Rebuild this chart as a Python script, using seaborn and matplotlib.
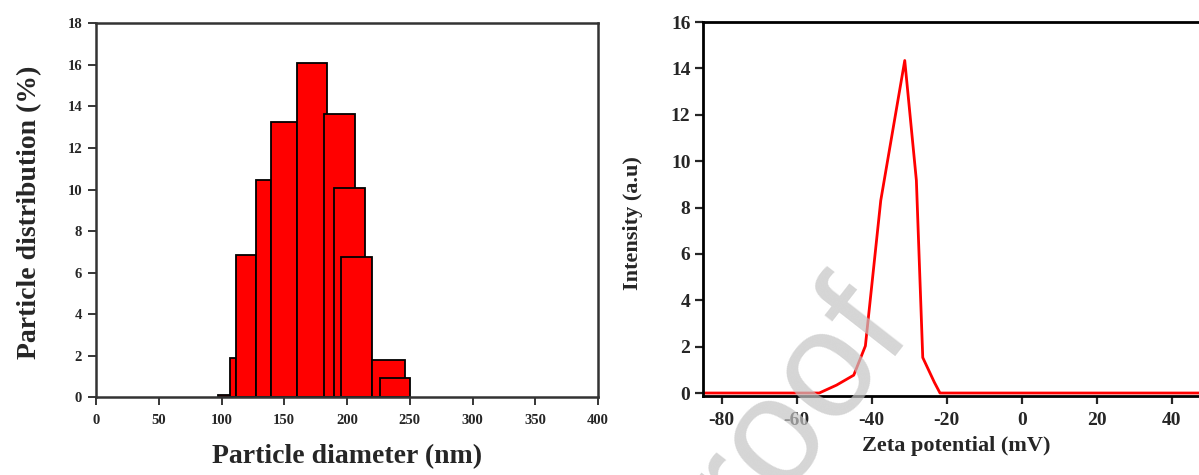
import matplotlib
matplotlib.use("Agg")
import matplotlib.pyplot as plt
import seaborn as sns
import pandas as pd

# particle size distribution (bars, in draw order)
bin_left  = [97.2, 107.1, 111.7, 127.4, 139.5, 159.8, 181.4, 189.5, 195.4, 219.7, 225.9]
bin_right = [107.1, 111.7, 127.4, 139.5, 159.8, 184.0, 206.2, 214.3, 219.7, 246.2, 250.2]
dist_pct  = [0.1, 1.89, 6.84, 10.47, 13.25, 16.07, 13.65, 10.08, 6.74, 1.78, 0.93]

# zeta potential curve
zeta_mv   = [-85, -54.0, -49.4, -44.8, -41.7, -37.6, -31.2, -28.1, -26.4, -23.3, -21.8, 55]
intensity = [0, 0, 0.34, 0.77, 2.03, 8.3, 14.34, 9.17, 1.53, 0.46, 0, 0]

size_ticks = list(range(0, 401, 50))
size_yticks = list(range(0, 19, 2))
zeta_ticks = list(range(-80, 41, 20))
zeta_yticks = list(range(0, 17, 2))

sns.set_theme(style="ticks")
plt.rcParams["font.family"] = ["Liberation Serif", "DejaVu Serif"]
plt.rcParams["font.weight"] = "bold"
plt.rcParams["axes.unicode_minus"] = False

fig = plt.figure(figsize=(11.99, 4.75), dpi=100)

# ---- left: particle size histogram
ax1 = fig.add_axes([96 / 1199, (475 - 397.3) / 475, 502 / 1199, 374 / 475])
widths = [r - l for l, r in zip(bin_left, bin_right)]
ax1.bar(bin_left, dist_pct, width=widths, align="edge",
        color="#ff0000", edgecolor="black", linewidth=1.3)
ax1.set_xlim(0, 400)
ax1.set_ylim(0, 18)
ax1.set_xticks(size_ticks)
ax1.set_yticks(size_yticks)
ax1.tick_params(direction="out", length=6, width=1.3, labelsize=10.5, pad=4,
                top=False, right=False)
ax1.tick_params(axis="x", pad=6)
for s in ax1.spines.values():
    s.set_linewidth(1.8)
    s.set_color("#333333")
    s.set_visible(True)
ax1.set_xlabel("Particle diameter (nm)", fontsize=20, fontweight="bold")
ax1.set_ylabel("Particle distribution (%)", fontsize=20, fontweight="bold")
ax1.xaxis.label.set_va("center")
ax1.yaxis.label.set_va("center")
ax1.xaxis.set_label_coords(0.5, (397.3 - 457) / 374)
ax1.yaxis.set_label_coords((30 - 96) / 502, 0.495)

# ---- right: zeta potential (axes runs past the right edge like the source)
ax2 = fig.add_axes([703 / 1199, (475 - 395.8) / 475, 525 / 1199, 373.8 / 475])
df = pd.DataFrame({"zeta": zeta_mv, "intensity": intensity})
sns.lineplot(data=df, x="zeta", y="intensity", color="#ff0000", linewidth=2,
             ax=ax2, sort=False)
ax2.set_xlim(-85, 55)
ax2.set_ylim(-0.12, 16)
ax2.set_xticks(zeta_ticks)
ax2.set_yticks(zeta_yticks)
ax2.tick_params(direction="out", length=6, width=1.6, labelsize=14, pad=3,
                top=False, right=False)
ax2.tick_params(axis="x", pad=6)
for s in ax2.spines.values():
    s.set_linewidth(2)
    s.set_color("black")
    s.set_visible(True)
ax2.set_xlabel("Zeta potential (mV)", fontsize=16, fontweight="bold")
ax2.set_ylabel("Intensity (a.u)", fontsize=16, fontweight="bold")
ax2.xaxis.label.set_va("center")
ax2.yaxis.label.set_va("center")
ax2.xaxis.set_label_coords((956 - 703) / 525, (395.8 - 446) / 373.8)
ax2.yaxis.set_label_coords((633 - 703) / 525, (395.8 - 223) / 373.8)

# journal watermark
fig.text(772 / 1199, 1 - 438 / 475, "proof", rotation=52, fontsize=110,
         color="#c4c4c4", alpha=0.7, ha="center", va="center",
         family="Liberation Sans", fontweight="normal")

fig.savefig("out.png", dpi=100)
